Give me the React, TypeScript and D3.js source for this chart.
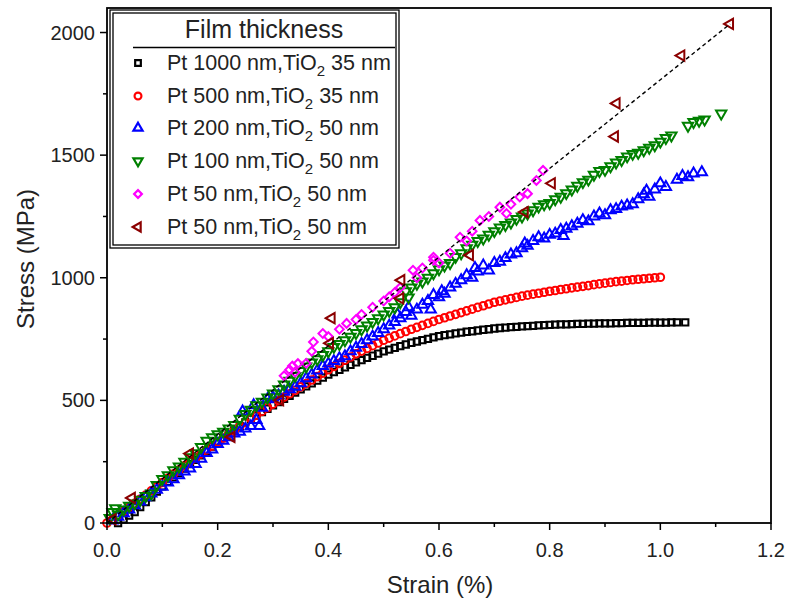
import React from 'react';
import * as d3 from 'd3';

// Stress-strain data: [strain (%), stress (MPa)]
const pt1000: [number, number][] = [
  [0.02, 0], [0.03, 15], [0.04, 30], [0.05, 45], [0.06, 65], [0.07, 85], [0.08, 105], [0.09, 128], [0.1, 150],
  [0.11, 168], [0.12, 186], [0.13, 204], [0.14, 222], [0.15, 240], [0.16, 258], [0.17, 276], [0.18, 294], [0.19, 312], [0.2, 330],
  [0.21, 346], [0.22, 362], [0.23, 378], [0.24, 394], [0.25, 410], [0.26, 424], [0.27, 438], [0.28, 452], [0.29, 466], [0.3, 480],
  [0.31, 493], [0.32, 506], [0.33, 519], [0.34, 532], [0.35, 545], [0.36, 557], [0.37, 569], [0.38, 581], [0.39, 593], [0.4, 605],
  [0.41, 615], [0.42, 625], [0.43, 635], [0.44, 645], [0.45, 655], [0.46, 664], [0.47, 673], [0.48, 682], [0.49, 691], [0.5, 700],
  [0.51, 707], [0.52, 714], [0.53, 721], [0.54, 728], [0.55, 735], [0.56, 740], [0.57, 746], [0.58, 751], [0.59, 757], [0.6, 762],
  [0.61, 766], [0.62, 769], [0.63, 773], [0.64, 776], [0.65, 780], [0.66, 782], [0.67, 785], [0.68, 788], [0.69, 790], [0.7, 793],
  [0.71, 795], [0.72, 797], [0.73, 799], [0.74, 800], [0.75, 802], [0.76, 803], [0.77, 804], [0.78, 806], [0.79, 807], [0.8, 808],
  [0.81, 809], [0.82, 810], [0.83, 810], [0.84, 811], [0.85, 812], [0.86, 812], [0.87, 813], [0.88, 813], [0.89, 814], [0.9, 814],
  [0.91, 814], [0.92, 815], [0.93, 815], [0.94, 816], [0.95, 816], [0.96, 816], [0.97, 816], [0.98, 817], [0.99, 817], [1.0, 817],
  [1.01, 817], [1.02, 818], [1.03, 818], [1.045, 818],
];

const pt500: [number, number][] = [
  [0.0, 0], [0.01, 15], [0.02, 32], [0.03, 48], [0.04, 64], [0.05, 80], [0.06, 97], [0.07, 114], [0.08, 131], [0.09, 148], [0.1, 165],
  [0.11, 182], [0.12, 199], [0.13, 216], [0.14, 233], [0.15, 250], [0.16, 266], [0.17, 282], [0.18, 298], [0.19, 314], [0.2, 330],
  [0.21, 346], [0.22, 362], [0.23, 378], [0.24, 394], [0.25, 410], [0.26, 425], [0.27, 440], [0.28, 455], [0.29, 470], [0.3, 485],
  [0.31, 499], [0.32, 513], [0.33, 527], [0.34, 541], [0.35, 555], [0.36, 569], [0.37, 583], [0.38, 597], [0.39, 611], [0.4, 625],
  [0.41, 638], [0.42, 651], [0.43, 664], [0.44, 677], [0.45, 690], [0.46, 701], [0.47, 712], [0.48, 723], [0.49, 734], [0.5, 745],
  [0.51, 754], [0.52, 763], [0.53, 772], [0.54, 781], [0.55, 790], [0.56, 798], [0.57, 806], [0.58, 814], [0.59, 822], [0.6, 830],
  [0.61, 837], [0.62, 844], [0.63, 851], [0.64, 858], [0.65, 865], [0.66, 872], [0.67, 879], [0.68, 886], [0.69, 893], [0.7, 900],
  [0.71, 905], [0.72, 910], [0.73, 915], [0.74, 920], [0.75, 925], [0.76, 929], [0.77, 933], [0.78, 937], [0.79, 941], [0.8, 945],
  [0.81, 948], [0.82, 952], [0.83, 955], [0.84, 959], [0.85, 962], [0.86, 965], [0.87, 968], [0.88, 972], [0.89, 975], [0.9, 978],
  [0.91, 981], [0.92, 984], [0.93, 986], [0.94, 989], [0.95, 992], [0.96, 994], [0.97, 996], [0.98, 998], [0.99, 1000], [1.0, 1002],
];

const pt200: [number, number][] = [
  [0.01, 10], [0.02, 25], [0.03, 40], [0.04, 55], [0.05, 72], [0.06, 88], [0.07, 105], [0.08, 120], [0.09, 135], [0.1, 148],
  [0.11, 165], [0.12, 178], [0.13, 195], [0.14, 210], [0.15, 222], [0.16, 240], [0.17, 262], [0.18, 285], [0.19, 300], [0.2, 322],
  [0.21, 335], [0.22, 350], [0.23, 365], [0.24, 372], [0.245, 455], [0.25, 385], [0.26, 395], [0.265, 480], [0.27, 420], [0.275, 395],
  [0.28, 470], [0.29, 505], [0.3, 512], [0.31, 520], [0.32, 535], [0.33, 545], [0.34, 555], [0.35, 570], [0.36, 590], [0.37, 605],
  [0.38, 622], [0.39, 640], [0.4, 650], [0.41, 660], [0.42, 672], [0.43, 680], [0.44, 700], [0.45, 715], [0.46, 730], [0.47, 745],
  [0.48, 760], [0.49, 775], [0.5, 790], [0.51, 805], [0.52, 820], [0.525, 850], [0.53, 835], [0.54, 860], [0.545, 880], [0.55, 845],
  [0.56, 870], [0.57, 890], [0.58, 905], [0.585, 870], [0.59, 930], [0.6, 920], [0.605, 945], [0.61, 935], [0.62, 960], [0.63, 975],
  [0.64, 990], [0.65, 1010], [0.66, 1000], [0.665, 1040], [0.67, 1025], [0.68, 1050], [0.69, 1030], [0.7, 1060], [0.71, 1065],
  [0.72, 1080], [0.73, 1095], [0.74, 1100], [0.75, 1120], [0.755, 1140], [0.76, 1130], [0.77, 1150], [0.78, 1165], [0.79, 1160],
  [0.8, 1175], [0.81, 1180], [0.82, 1195], [0.825, 1170], [0.83, 1200], [0.84, 1210], [0.85, 1220], [0.86, 1235], [0.87, 1230],
  [0.88, 1250], [0.89, 1262], [0.9, 1255], [0.91, 1275], [0.92, 1280], [0.93, 1290], [0.94, 1295], [0.95, 1300], [0.96, 1320],
  [0.97, 1340], [0.975, 1355], [0.98, 1330], [0.99, 1360], [1.0, 1385], [1.01, 1370], [1.03, 1400], [1.04, 1415], [1.05, 1410],
  [1.06, 1425], [1.075, 1430],
];

const pt100: [number, number][] = [
  [0.005, 20], [0.01, 45], [0.015, 60], [0.02, 35], [0.03, 55], [0.04, 70], [0.05, 80], [0.06, 95], [0.07, 110], [0.08, 120],
  [0.09, 155], [0.1, 180], [0.11, 195], [0.12, 215], [0.13, 230], [0.14, 250], [0.15, 268], [0.16, 285], [0.17, 310], [0.18, 335],
  [0.19, 350], [0.2, 362], [0.21, 372], [0.22, 385], [0.23, 400], [0.24, 425], [0.25, 445], [0.26, 462], [0.27, 480], [0.28, 495],
  [0.29, 512], [0.3, 528], [0.31, 545], [0.32, 565], [0.33, 580], [0.34, 600], [0.35, 620], [0.36, 638], [0.37, 655], [0.38, 668],
  [0.39, 685], [0.4, 700], [0.41, 718], [0.42, 730], [0.43, 745], [0.44, 760], [0.45, 775], [0.46, 790], [0.47, 805], [0.48, 820],
  [0.49, 835], [0.5, 850], [0.51, 865], [0.52, 880], [0.53, 900], [0.54, 945], [0.545, 920], [0.55, 960], [0.56, 975], [0.57, 985],
  [0.58, 1000], [0.59, 1018], [0.6, 1035], [0.61, 1050], [0.62, 1060], [0.63, 1085], [0.64, 1100], [0.65, 1120], [0.66, 1135],
  [0.67, 1150], [0.68, 1160], [0.69, 1175], [0.7, 1190], [0.71, 1205], [0.72, 1215], [0.73, 1225], [0.74, 1240], [0.75, 1250],
  [0.76, 1262], [0.77, 1275], [0.78, 1290], [0.79, 1300], [0.8, 1305], [0.81, 1320], [0.82, 1330], [0.83, 1345], [0.84, 1360],
  [0.85, 1375], [0.86, 1390], [0.87, 1400], [0.88, 1420], [0.89, 1435], [0.9, 1440], [0.91, 1455], [0.92, 1470], [0.93, 1480],
  [0.94, 1495], [0.95, 1505], [0.96, 1510], [0.97, 1520], [0.98, 1530], [0.99, 1540], [1.0, 1555], [1.01, 1570], [1.02, 1580],
  [1.05, 1620], [1.06, 1635], [1.07, 1640], [1.08, 1645], [1.11, 1670],
];

const pt50a: [number, number][] = [
  [0.32, 600], [0.33, 625], [0.335, 640], [0.34, 615], [0.345, 650], [0.36, 651], [0.37, 700], [0.373, 738], [0.39, 773],
  [0.4, 760], [0.42, 790], [0.433, 814], [0.45, 830], [0.46, 850], [0.48, 880], [0.5, 905], [0.51, 922], [0.52, 940], [0.53, 960],
  [0.553, 1031], [0.56, 1000], [0.57, 1040], [0.59, 1071], [0.59, 1084], [0.6, 1060], [0.62, 1100], [0.638, 1165], [0.65, 1150],
  [0.66, 1190], [0.674, 1234], [0.69, 1250], [0.71, 1288], [0.722, 1262], [0.73, 1300], [0.746, 1329], [0.76, 1343], [0.776, 1397],
  [0.788, 1438],
];

const pt50b: [number, number][] = [
  [0.01, 15], [0.045, 102], [0.15, 283], [0.225, 351], [0.313, 501], [0.403, 733], [0.406, 835], [0.53, 916], [0.532, 990],
  [0.656, 1092], [0.755, 1268], [0.804, 1385], [0.918, 1576], [0.921, 1711], [1.038, 1906], [1.126, 2035],
];

// linear fit drawn as dashed line
const fitLine: [number, number][] = [[0.0, 0], [1.126, 2035]];

const seriesNames = ['Pt 1000 nm,TiO', 'Pt 500 nm,TiO', 'Pt 200 nm,TiO', 'Pt 100 nm,TiO', 'Pt 50 nm,TiO', 'Pt 50 nm,TiO'];
const tiO2Thickness = ['35 nm', '35 nm', '50 nm', '50 nm', '50 nm', '50 nm'];
const xTicks = [0, 0.2, 0.4, 0.6, 0.8, 1.0, 1.2];
const yTicks = [0, 500, 1000, 1500, 2000];

const allData = [pt1000, pt500, pt200, pt100, pt50a, pt50b];
const colors = ['#000000', '#ff0000', '#0000ff', '#008000', '#ff00ff', '#8b0000'];
const symbols = [d3.symbolSquare, d3.symbolCircle, d3.symbolTriangle, d3.symbolTriangle, d3.symbolSquare, d3.symbolTriangle];
const rotations = [0, 0, 0, 180, 45, -90];
const sizes = [40, 46, 46, 46, 38, 46];

const W = 790;
const H = 607;
const left = 107, right = 771, top = 8, bottom = 523;

export default function App() {
  const x = d3.scaleLinear().domain([0, 1.2]).range([left, right]);
  const y = d3.scaleLinear().domain([0, 2100]).range([bottom, top]);
  const font = 'Arial, "Liberation Sans", sans-serif';

  const symPaths = symbols.map((s, i) => d3.symbol().type(s).size(sizes[i])()!);
  const legendSym = symbols.map((s, i) => d3.symbol().type(s).size(sizes[i] * 0.8)()!);
  const xMinor = d3.range(0, 1.21, 0.1);
  const yMinor = d3.range(0, 2001, 250);
  const line = d3.line<[number, number]>().x(d => x(d[0])).y(d => y(d[1]));

  const legendRows = [63, 96, 128, 161, 194, 227];

  return (
    <svg width={W} height={H} style={{ position: 'absolute', left: 0, top: 0, background: '#fff' }} fontFamily={font}>
      <rect x={0} y={0} width={W} height={H} fill="#fff" />

      {/* data */}
      {allData.map((data, si) => (
        <g key={si} fill="none" stroke={colors[si]} strokeWidth={2}>
          {data.map((d, i) => (
            <path key={i} d={symPaths[si]} transform={`translate(${x(d[0])},${y(d[1])}) rotate(${rotations[si]})`} />
          ))}
        </g>
      ))}
      <path d={line(fitLine)!} fill="none" stroke="#000" strokeWidth={1.4} strokeDasharray="4,3" />

      {/* frame */}
      <rect x={left} y={top} width={right - left} height={bottom - top} fill="none" stroke="#000" strokeWidth={1.8} />

      {/* x axis ticks */}
      {xMinor.map((t, i) => (
        <line key={i} x1={x(t)} x2={x(t)} y1={bottom} y2={bottom + (i % 2 === 0 ? 7 : 4)} stroke="#000" strokeWidth={1.5} />
      ))}
      {xTicks.map(t => (
        <text key={t} x={x(t)} y={557} textAnchor="middle" fontSize={20} fill="#222">{t.toFixed(1)}</text>
      ))}

      {/* y axis ticks */}
      {yMinor.map((t, i) => (
        <line key={i} x1={left} x2={left - (i % 2 === 0 ? 7 : 4)} y1={y(t)} y2={y(t)} stroke="#000" strokeWidth={1.5} />
      ))}
      {yTicks.map(t => (
        <text key={t} x={95} y={y(t) + 7} textAnchor="end" fontSize={20} fill="#222">{t}</text>
      ))}

      {/* axis titles */}
      <text x={440} y={593} textAnchor="middle" fontSize={24} fill="#222">Strain (%)</text>
      <text transform="translate(34,259) rotate(-90)" textAnchor="middle" fontSize={24} fill="#222">Stress (MPa)</text>

      {/* legend */}
      <rect x={110} y={10} width={289} height={238} fill="#fff" stroke="#000" strokeWidth={1.3} />
      <rect x={113} y={13} width={283} height={232} fill="none" stroke="#000" strokeWidth={1.3} />
      <text x={264} y={38} textAnchor="middle" fontSize={25} fill="#222">Film thickness</text>
      <line x1={133} x2={395} y1={47.5} y2={47.5} stroke="#000" strokeWidth={1.3} />
      {seriesNames.map((name, i) => (
        <g key={i}>
          <path d={legendSym[i]} transform={`translate(138,${legendRows[i]}) rotate(${rotations[i]})`}
            fill="none" stroke={colors[i]} strokeWidth={2.2} />
          <text x={167} y={legendRows[i] + 7} fontSize={21.5} fill="#222">
            {name}
            <tspan fontSize={15} dy={6}>2</tspan>
            <tspan dy={-6}>{' ' + tiO2Thickness[i]}</tspan>
          </text>
        </g>
      ))}
    </svg>
  );
}
